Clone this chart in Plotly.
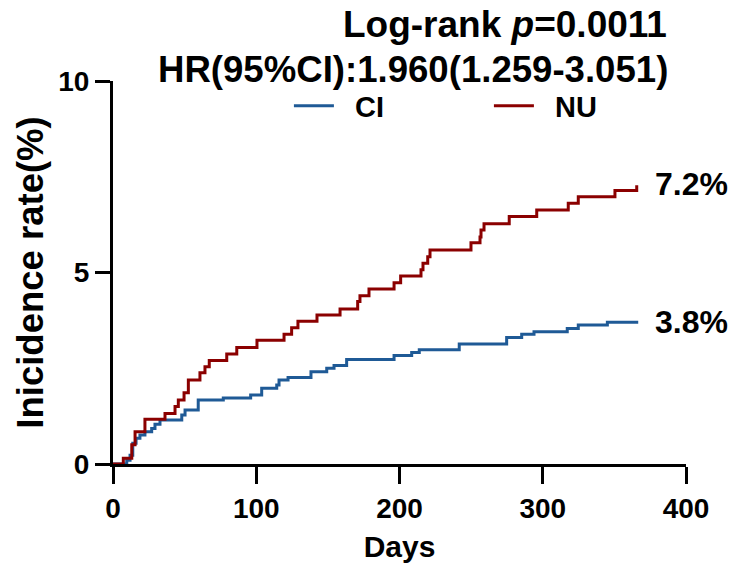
import plotly.graph_objects as go

# ---- data ----
days_ci = [0, 9.6, 11.9, 13.8, 16.1, 18.8, 22.3, 27.0, 29.3, 32.8, 48.0, 50.3, 59.5, 77.0, 96.1,
           103.8, 114.3, 115.9, 122.2, 138.2, 149.2, 154.3, 163.1, 196.2, 208.5, 213.8, 241.7,
           274.8, 285.3, 293.9, 317.1, 324.8, 345.1, 365.6]
rate_ci = [0, 0.10, 0.23, 0.54, 0.67, 0.76, 0.84, 0.93, 1.04, 1.15, 1.28, 1.41, 1.67, 1.72, 1.80,
           1.98, 2.06, 2.19, 2.26, 2.41, 2.50, 2.57, 2.73, 2.83, 2.91, 2.98, 3.13,
           3.30, 3.39, 3.45, 3.54, 3.63, 3.70, 3.74]

days_nu = [0, 7.2, 13.1, 15.4, 22.3, 36.3, 43.3, 45.6, 49.6, 52.6, 60.7, 64.2, 67.2, 79.4, 86.4,
           100.5, 119.4, 124.7, 129.1, 142.4, 158.5, 170.8, 172.4, 178.7, 196.2, 200.8, 215.0,
           216.4, 219.7, 221.3, 249.9, 256.2, 256.9, 259.0, 276.6, 295.8, 317.8, 324.8, 350.4, 365.6]
rate_nu = [0, 0.15, 0.50, 0.84, 1.17, 1.32, 1.50, 1.67, 1.86, 2.19, 2.38, 2.54, 2.70, 2.87, 3.04,
           3.23, 3.39, 3.56, 3.73, 3.89, 4.05, 4.24, 4.39, 4.57, 4.73, 4.91, 5.07,
           5.24, 5.41, 5.59, 5.78, 5.93, 6.11, 6.27, 6.46, 6.63, 6.81, 6.98, 7.14, 7.28]

x_ticks = [0, 100, 200, 300, 400]
y_ticks = [0, 5, 10]
series_names = ["CI", "NU"]
end_labels = ["3.8%", "7.2%"]
title1 = "Log-rank <i>p</i>=0.0011"
title2 = "HR(95%CI):1.960(1.259-3.051)"

BLUE = "#1f5a96"
RED = "#8b0000"
FONT = "Liberation Sans"
NB = "\u00a0\u00a0"

fig = go.Figure()
fig.add_trace(go.Scatter(x=days_ci, y=rate_ci, mode="lines", name=NB + "<b>" + series_names[0] + "</b>",
                         line=dict(color=BLUE, width=3, shape="hv")))
fig.add_trace(go.Scatter(x=days_nu, y=rate_nu, mode="lines", name=NB + "<b>" + series_names[1] + "</b>",
                         line=dict(color=RED, width=3, shape="hv")))

# end labels
fig.add_annotation(x=days_ci[-1], y=rate_ci[-1], text="<b>" + end_labels[0] + "</b>",
                   showarrow=False, xanchor="left", xshift=16, yshift=-1,
                   font=dict(size=32, color="black", family=FONT))
fig.add_annotation(x=days_nu[-1], y=rate_nu[-1], text="<b>" + end_labels[1] + "</b>",
                   showarrow=False, xanchor="left", xshift=16, yshift=1,
                   font=dict(size=32, color="black", family=FONT))

# title lines
fig.add_annotation(xref="paper", yref="paper", x=0.970, y=1.1475, text="<b>" + title1 + "</b>",
                   showarrow=False, xanchor="right", yanchor="middle",
                   font=dict(size=37, color="black", family=FONT))
fig.add_annotation(xref="paper", yref="paper", x=0.972, y=1.030, text="<b>" + title2 + "</b>",
                   showarrow=False, xanchor="right", yanchor="middle",
                   font=dict(size=36.6, color="black", family=FONT))

# page has an 8px body margin: the figure is made 8px smaller and margins reduced accordingly
fig.update_layout(
    width=731, height=559,
    margin=dict(l=105, r=53, t=73, b=103, autoexpand=False),
    paper_bgcolor="white", plot_bgcolor="white",
    font=dict(family=FONT, color="black"),
    showlegend=True,
    legend=dict(orientation="h", x=0.307, y=0.935, xanchor="left", yanchor="middle",
                font=dict(size=29, family=FONT, color="black"),
                entrywidth=145, entrywidthmode="pixels", bgcolor="rgba(0,0,0,0)",
                itemwidth=40),
    xaxis=dict(range=[0, 400], tickvals=x_ticks, ticktext=["<b>%d</b>" % v for v in x_ticks],
               showline=True, linecolor="black", linewidth=3, showgrid=False, zeroline=False,
               ticks="outside", ticklen=17, tickwidth=3, tickcolor="black", automargin=False,
               tickfont=dict(size=28, family=FONT, color="black"),
               title=dict(text="<b>Days</b>", font=dict(size=30, family=FONT, color="black"), standoff=14)),
    yaxis=dict(range=[0, 10], tickvals=y_ticks, ticktext=["<b>%d</b>" % v for v in y_ticks],
               showline=True, linecolor="black", linewidth=3, showgrid=False, zeroline=False,
               ticks="outside", ticklen=15, tickwidth=3, tickcolor="black", automargin=False,
               tickfont=dict(size=28, family=FONT, color="black"),
               title=dict(text="<b>Inicidence rate(%)</b>", font=dict(size=36.5, family=FONT, color="black"), standoff=4)),
)

fig.write_html("out.html")
